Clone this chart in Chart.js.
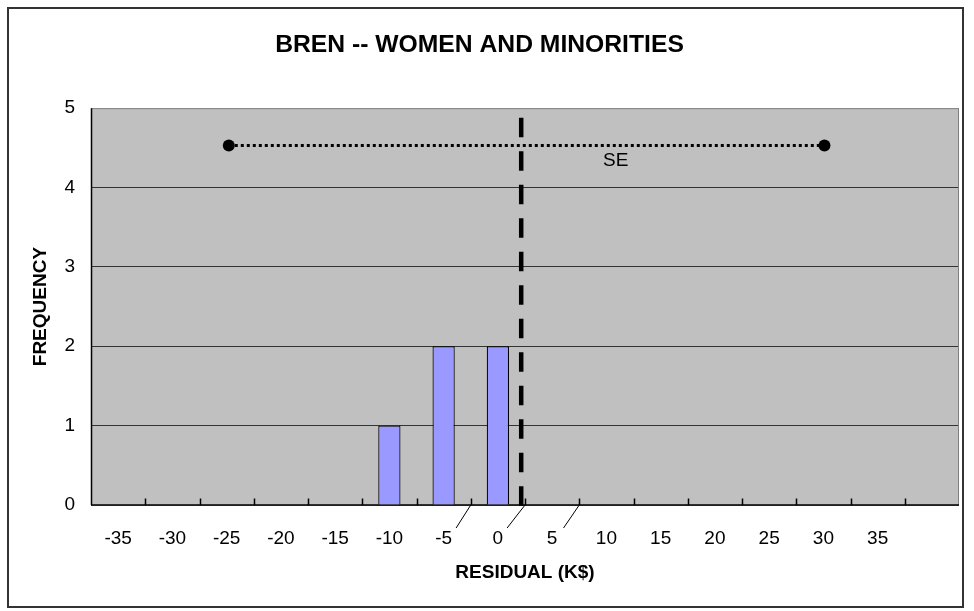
<!DOCTYPE html>
<html>
<head>
<meta charset="utf-8">
<script src="https://cdn.jsdelivr.net/npm/chart.js@4.4.1/dist/chart.umd.min.js"></script>
<style>
  html, body { margin: 0; padding: 0; background: #fff; }
</style>
</head>
<body>
<canvas id="myChart" width="974" height="611"></canvas>
<script>
// histogram bins (K$) and counts
const binLabels = ['-35', '-30', '-25', '-20', '-15', '-10', '-5', '0', '5', '10', '15', '20', '25', '30', '35', ''];
const frequency = [0, 0, 0, 0, 0, 1, 2, 2, 0, 0, 0, 0, 0, 0, 0, 0];
const yTicks = [0, 1, 2, 3, 4, 5];

// mean residual marker (dashed) and the SE bar (dotted)
const meanX = [2.15, 2.15];
const meanY = [4.88, -0.02];
const seX = [-24.8, 30.1];
const seY = [4.53, 4.53];
const seNote = { text: 'SE', x: 9.7, y: 4.34 };

// the little slashes under the axis
const slashX = [-2.5, -3.85, null, 2.5, 0.85, null, 7.5, 6.05];
const slashY = [0, -0.29, null, 0, -0.29, null, 0, -0.29];

const pts = (xs, ys) => xs.map((v, i) => ({ x: v === null ? 0 : v, y: ys[i] }));
const tickFont = { family: 'Liberation Sans, Arial, sans-serif', size: 19 };
const boldFont = { family: 'Liberation Sans, Arial, sans-serif', size: 19, weight: 'bold' };

const frame = {
  id: 'frame',
  beforeDraw(chart) {
    const { ctx, chartArea: a } = chart;
    ctx.save();
    ctx.fillStyle = '#fff';
    ctx.fillRect(0, 0, chart.width, chart.height);
    ctx.fillStyle = '#c0c0c0';
    ctx.fillRect(a.left, a.top, a.right - a.left, a.bottom - a.top);
    ctx.strokeStyle = '#333';
    ctx.lineWidth = 2;
    ctx.strokeRect(8, 8, 955, 599);
    ctx.restore();
  },
  beforeDatasetsDraw(chart) {
    const { ctx, chartArea: a, scales: { x } } = chart;
    ctx.save();
    ctx.strokeStyle = '#808080';
    ctx.lineWidth = 1;
    ctx.strokeRect(a.left + 0.5, a.top + 0.5, a.right - a.left - 1, a.bottom - a.top);
    ctx.strokeStyle = '#000';
    ctx.lineWidth = 1.5;
    ctx.beginPath();
    ctx.moveTo(a.left, a.bottom);
    ctx.lineTo(a.right, a.bottom);
    for (let i = 1; i < binLabels.length; i++) {
      const px = Math.round((x.getPixelForValue(i - 1) + x.getPixelForValue(i)) / 2) + 0.5;
      ctx.moveTo(px, a.bottom);
      ctx.lineTo(px, a.bottom - 6.5);
    }
    ctx.moveTo(a.left + 0.5, a.top);
    ctx.lineTo(a.left + 0.5, a.bottom);
    ctx.stroke();
    ctx.restore();
  },
  afterDatasetsDraw(chart) {
    const { ctx, scales: { xv, y } } = chart;
    ctx.save();
    ctx.fillStyle = '#000';
    ctx.font = '19px "Liberation Sans", Arial, sans-serif';
    ctx.textAlign = 'left';
    ctx.textBaseline = 'middle';
    ctx.fillText(seNote.text, xv.getPixelForValue(seNote.x), y.getPixelForValue(seNote.y));
    ctx.restore();
  }
};

const ctx = document.getElementById('myChart').getContext('2d');
const histChart = new Chart(ctx, {
  type: 'bar',
  data: {
    labels: binLabels,
    datasets: [
      {
        label: 'Frequency',
        data: frequency,
        backgroundColor: '#9999ff',
        borderColor: '#000',
        borderWidth: 1.2,
        barPercentage: 0.41,
        categoryPercentage: 1,
        grouped: false,
        order: 3
      },
      {
        type: 'line',
        label: 'Mean',
        data: pts(meanX, meanY),
        xAxisID: 'xv',
        borderColor: '#000',
        borderWidth: 4.5,
        borderDash: [19.5, 14],
        pointRadius: 0,
        clip: false,
        order: 1
      },
      {
        type: 'line',
        label: 'SE',
        data: pts(seX, seY),
        xAxisID: 'xv',
        borderColor: '#000',
        borderWidth: 3,
        borderDash: [3, 3],
        pointRadius: 6,
        pointBackgroundColor: '#000',
        pointBorderWidth: 0,
        order: 0
      },
      {
        type: 'line',
        label: 'slash',
        data: pts(slashX, slashY),
        xAxisID: 'xv',
        borderColor: '#000',
        borderWidth: 1,
        pointRadius: 0,
        spanGaps: false,
        clip: false,
        order: 2
      }
    ]
  },
  options: {
    responsive: false,
    animation: false,
    layout: { padding: { left: 0, right: 15, top: 0, bottom: 0 } },
    plugins: {
      legend: { display: false },
      tooltip: { enabled: false },
      title: {
        display: true,
        text: 'BREN -- WOMEN AND MINORITIES',
        color: '#000',
        font: { family: 'Liberation Sans, Arial, sans-serif', size: 24.7, weight: 'bold' },
        padding: { top: 30, bottom: 48.5 }
      }
    },
    scales: {
      x: {
        type: 'category',
        offset: true,
        grid: { display: false, drawTicks: false },
        border: { display: false },
        ticks: { color: '#000', font: tickFont, padding: 22, autoSkip: false, maxRotation: 0 },
        title: { display: true, text: 'RESIDUAL (K$)', color: '#000', font: boldFont, padding: { top: 0, bottom: 27 } },
        afterFit(s) { s.height = 106; }
      },
      xv: { type: 'linear', display: false, offset: false, min: -37.5, max: 42.5 },
      y: {
        min: 0,
        max: 5,
        afterBuildTicks(s) { s.ticks = yTicks.map(v => ({ value: v })); },
        ticks: { color: '#000', font: tickFont, padding: 16 },
        grid: {
          color: c => (c.tick.value === 0 || c.tick.value === 5) ? 'rgba(0,0,0,0)' : '#333',
          drawTicks: false
        },
        border: { display: false },
        title: { display: true, text: 'FREQUENCY', color: '#000', font: boldFont, padding: { top: 29, bottom: 0 } },
        afterFit(s) { s.width = 91; }
      }
    }
  },
  plugins: [frame]
});
</script>
</body>
</html>
